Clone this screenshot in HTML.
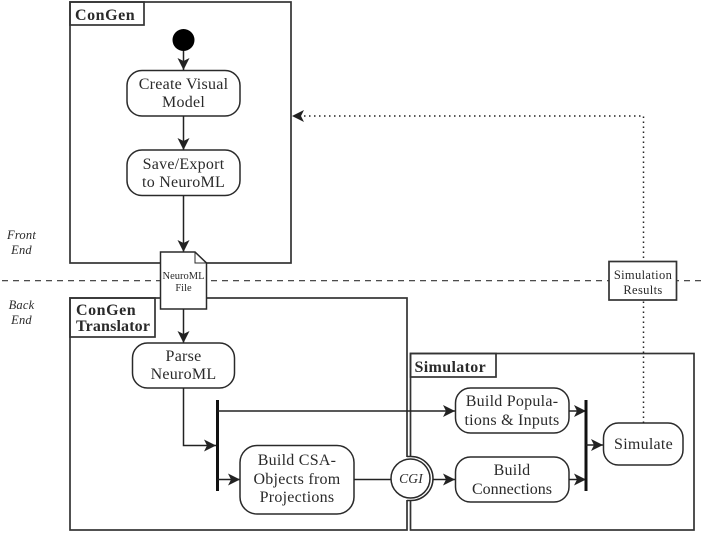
<!DOCTYPE html>
<html><head><meta charset="utf-8"><style>
html,body{margin:0;padding:0;background:#fff}
svg{display:block}
text{font-family:"Liberation Serif",serif;fill:#2a2a2a;text-anchor:middle;font-size:16px;letter-spacing:.25px}
.b{font-weight:bold;text-anchor:start;font-size:16px;letter-spacing:.55px}
.i{font-style:italic;font-size:12.5px;letter-spacing:.2px}
.s{font-size:12.5px;letter-spacing:.35px}
.box{fill:none;stroke:#333;stroke-width:1.7}
.n{fill:#fff;stroke:#2a2a2a;stroke-width:1.5}
.l{fill:none;stroke:#222;stroke-width:1.5}
</style></head><body>
<svg width="708" height="534" viewBox="0 0 708 534" xmlns="http://www.w3.org/2000/svg">
<defs><marker id="a" markerUnits="userSpaceOnUse" markerWidth="13" markerHeight="12" refX="12" refY="6" orient="auto"><path d="M0 0L12 6L0 12L3 6Z" fill="#222"/></marker></defs>

<line x1="2" y1="280.7" x2="706" y2="280.7" stroke="#333" stroke-width="1.2" stroke-dasharray="6 5"/>

<rect class="box" x="70" y="2" width="221" height="261"/>
<rect class="box" x="70" y="2" width="74" height="23"/>
<text class="b" x="75" y="20">ConGen</text>

<rect class="box" x="70" y="298" width="337" height="232"/>
<rect class="box" x="70" y="298" width="85" height="39"/>
<text class="b" x="76" y="315">ConGen</text>
<text class="b" x="76" y="331" style="letter-spacing:.15px">Translator</text>

<rect class="box" x="410.5" y="353.5" width="283.5" height="176.5"/>
<rect class="box" x="410.5" y="353.5" width="85.5" height="23.5"/>
<text class="b" x="414.5" y="372" style="letter-spacing:.35px">Simulator</text>

<circle cx="183.5" cy="40" r="11" fill="#000"/>
<line class="l" x1="183.5" y1="51" x2="183.5" y2="70" marker-end="url(#a)"/>
<rect class="n" x="127" y="70.500" width="113" height="45.500" rx="15"/>
<text x="183.500" y="89">Create Visual</text>
<text x="183.500" y="107">Model</text>
<line class="l" x1="183.500" y1="116" x2="183.500" y2="150" marker-end="url(#a)"/>
<rect class="n" x="127" y="150" width="113" height="45.500" rx="15"/>
<text x="183.500" y="169">Save/Export</text>
<text x="183.500" y="187">to NeuroML</text>
<line class="l" x1="183.500" y1="195.500" x2="183.500" y2="252" marker-end="url(#a)"/>

<path d="M160.500 252H195L206.500 263V309H160.500Z" fill="#fff" stroke="#2a2a2a" stroke-width="1.5"/>
<path d="M195 252V263H206.500" fill="none" stroke="#2a2a2a" stroke-width="1"/>
<text x="183.500" y="279" style="font-size:10.5px;letter-spacing:0">NeuroML</text>
<text x="183.500" y="291" style="font-size:10.5px;letter-spacing:0">File</text>

<line class="l" x1="183.500" y1="309" x2="183.500" y2="343" marker-end="url(#a)"/>
<rect class="n" x="132.500" y="343" width="102" height="45" rx="15"/>
<text x="183.500" y="361">Parse</text>
<text x="183.500" y="379">NeuroML</text>
<path class="l" d="M183.500 388V445.500H216" marker-end="url(#a)"/>
<line x1="217.500" y1="400" x2="217.500" y2="491" stroke="#111" stroke-width="3"/>
<line class="l" x1="217.500" y1="411" x2="455" y2="411" marker-end="url(#a)"/>
<line class="l" x1="217.500" y1="479.500" x2="240" y2="479.500" marker-end="url(#a)"/>

<rect class="n" x="240" y="445.500" width="114" height="68.500" rx="17"/>
<text x="297" y="465">Build CSA-</text>
<text x="297" y="484">Objects from</text>
<text x="297" y="502">Projections</text>
<line class="l" x1="354" y1="479.500" x2="392" y2="479.500"/>

<rect x="405" y="457" width="8" height="43" fill="#fff"/>
<path d="M407 456.500H411A22 22 0 0 1 411 500.500H407" fill="#fff" stroke="#2a2a2a" stroke-width="1.500"/>
<circle cx="410.500" cy="478.500" r="19.500" fill="#fff" stroke="#2a2a2a" stroke-width="1.500"/>
<text class="i" x="411" y="483" style="font-size:13.5px">CGI</text>
<line class="l" x1="433" y1="479.500" x2="455" y2="479.500" marker-end="url(#a)"/>

<rect class="n" x="455.500" y="388" width="113.500" height="45" rx="15"/>
<text x="512" y="406">Build Popula-</text>
<text x="512" y="425">tions &amp; Inputs</text>
<rect class="n" x="455.500" y="457" width="113.500" height="45" rx="15"/>
<text x="512" y="475">Build</text>
<text x="512" y="494" style="letter-spacing:0">Connections</text>
<line class="l" x1="569" y1="411" x2="586" y2="411" marker-end="url(#a)"/>
<line class="l" x1="569" y1="479.500" x2="586" y2="479.500" marker-end="url(#a)"/>
<line x1="586" y1="400" x2="586" y2="491" stroke="#111" stroke-width="3"/>
<line class="l" x1="586" y1="445" x2="603" y2="445" marker-end="url(#a)"/>
<rect class="n" x="603.500" y="423" width="79.500" height="42" rx="15"/>
<text x="643.500" y="449">Simulate</text>

<path d="M643.500 423V116H304" fill="none" stroke="#222" stroke-width="1.500" stroke-dasharray="1.500 3.500"/>
<path d="M292 116L304 110L301 116L304 122Z" fill="#222"/>

<rect x="609" y="261.500" width="67.500" height="38.500" fill="#fff" stroke="#333" stroke-width="1.700"/>
<text class="s" x="643" y="279">Simulation</text>
<text class="s" x="643" y="294">Results</text>

<text class="i" x="21.500" y="239">Front</text>
<text class="i" x="21.500" y="254">End</text>
<text class="i" x="21.500" y="309">Back</text>
<text class="i" x="21.500" y="324">End</text>
</svg>
</body></html>
